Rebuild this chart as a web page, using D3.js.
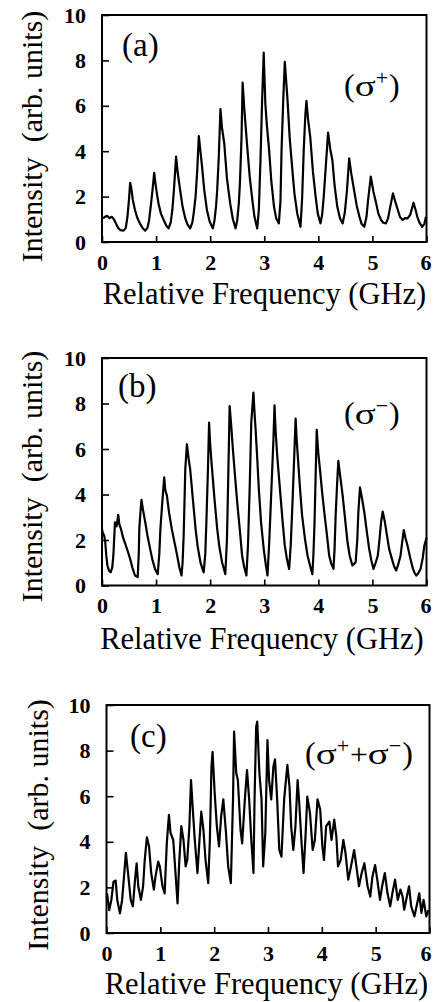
<!DOCTYPE html>
<html lang="en">
<head>
<meta charset="utf-8">
<title>Spectra sigma+ / sigma-</title>
<script src="https://d3js.org/d3.v7.min.js"></script>
<style>
  body { margin: 0; background: #fff; }
  svg { display: block; }
  text { font-family: "Liberation Serif", "Times New Roman", serif; fill: #000; }
</style>
</head>
<body>
<div id="vis"></div>
<script>
// [frequency (GHz), intensity (arb. units)]

// (a) sigma+
const traceA = [
  [0.02,1.04],[0.06,1.12],[0.10,1.15],[0.14,1.05],[0.18,1.11],[0.22,1.00],[0.26,0.80],
  [0.30,0.62],[0.34,0.52],[0.40,0.50],[0.44,0.62],[0.47,1.10],[0.50,1.90],
  [0.52,2.61],[0.54,2.40],[0.57,1.85],[0.61,1.41],[0.65,1.08],[0.70,0.82],[0.75,0.62],
  [0.80,0.50],[0.84,0.62],[0.87,0.95],[0.90,1.55],[0.93,2.20],
  [0.965,3.05],[0.99,2.55],[1.02,2.05],[1.045,1.70],[1.09,1.25],[1.14,0.97],[1.19,0.72],
  [1.23,0.60],[1.27,0.85],[1.30,1.40],[1.33,2.30],
  [1.37,3.76],[1.40,3.05],[1.45,2.20],[1.49,1.55],[1.54,1.04],[1.58,0.78],[1.63,0.60],
  [1.67,0.85],[1.70,1.35],[1.73,2.00],[1.76,3.10],
  [1.79,4.67],[1.82,4.00],[1.85,3.32],[1.89,2.30],[1.94,1.41],[1.99,0.90],[2.05,0.60],
  [2.08,0.95],[2.11,1.60],[2.13,2.29],[2.16,3.80],
  [2.19,5.86],[2.22,5.00],[2.26,4.35],[2.31,2.80],[2.37,1.70],[2.42,1.00],[2.47,0.60],
  [2.50,0.95],[2.53,1.70],[2.55,2.58],[2.58,4.60],
  [2.60,7.02],[2.63,5.90],[2.68,4.35],[2.73,2.90],[2.78,1.85],[2.82,1.10],[2.87,0.60],
  [2.90,1.40],[2.93,3.60],[2.96,6.20],
  [2.99,8.34],[3.02,6.10],[3.05,5.10],[3.09,4.05],[3.13,2.70],[3.18,1.56],[3.22,1.05],
  [3.27,0.82],[3.30,1.80],[3.32,4.05],[3.35,6.20],
  [3.38,7.94],[3.43,6.26],[3.47,4.60],[3.52,3.17],[3.56,2.10],[3.61,1.26],[3.67,0.67],
  [3.70,1.90],[3.73,4.05],[3.76,5.60],
  [3.78,6.22],[3.81,5.40],[3.85,4.64],[3.90,3.10],[3.95,2.00],[3.99,1.25],[4.04,0.82],
  [4.07,1.20],[4.10,2.00],[4.14,3.40],
  [4.18,4.82],[4.22,4.10],[4.26,3.60],[4.30,2.50],[4.35,1.56],[4.40,1.05],[4.45,0.82],
  [4.49,1.30],[4.53,2.29],
  [4.57,3.69],[4.61,3.00],[4.66,2.29],[4.71,1.60],[4.76,1.11],[4.80,0.80],[4.85,0.67],
  [4.89,1.10],[4.92,1.85],
  [4.97,2.88],[5.02,2.20],[5.07,1.70],[5.11,1.25],[5.16,0.97],[5.20,0.85],[5.25,0.82],
  [5.29,1.05],[5.33,1.56],
  [5.38,2.14],[5.42,1.80],[5.47,1.41],[5.51,1.10],[5.56,0.97],[5.60,1.05],[5.65,1.04],
  [5.70,1.20],[5.76,1.73],[5.80,1.40],[5.83,1.11],[5.87,0.85],[5.92,0.67],[5.96,0.80],[5.99,1.11]
];

// (b) sigma-
const traceB = [
  [0.00,2.50],[0.01,2.34],[0.04,2.20],[0.06,1.90],[0.08,1.30],[0.10,0.88],[0.13,0.65],
  [0.16,0.58],[0.19,0.80],[0.21,1.32],[0.24,2.78],[0.27,2.60],[0.30,3.10],[0.32,2.70],
  [0.35,2.49],[0.39,2.10],[0.43,1.83],[0.47,1.55],[0.52,1.17],[0.56,0.80],[0.61,0.44],
  [0.66,0.37],[0.68,1.40],[0.69,2.49],[0.71,3.20],[0.73,3.77],[0.76,3.30],[0.80,2.78],
  [0.84,2.20],[0.89,1.61],[0.93,1.15],[0.98,0.73],[1.03,0.50],[1.06,1.40],[1.08,2.49],
  [1.11,3.50],[1.15,4.75],[1.17,4.20],[1.20,3.95],[1.24,3.20],[1.29,2.49],[1.34,1.90],
  [1.39,1.32],[1.43,0.80],[1.47,0.44],[1.49,1.00],[1.51,2.19],[1.54,5.12],[1.57,6.21],
  [1.60,5.60],[1.63,5.12],[1.68,3.80],[1.73,2.49],[1.77,1.70],[1.82,1.02],[1.88,0.58],
  [1.91,1.40],[1.93,2.78],[1.96,5.20],[1.98,7.16],[2.00,6.20],[2.03,5.26],[2.08,3.80],
  [2.13,2.49],[2.17,1.70],[2.22,1.02],[2.28,0.50],[2.31,2.00],[2.33,4.24],[2.36,7.89],
  [2.39,7.00],[2.42,6.00],[2.46,4.80],[2.50,3.66],[2.55,2.40],[2.59,1.32],[2.63,0.80],
  [2.67,0.44],[2.70,1.80],[2.73,4.24],[2.76,7.16],[2.80,8.48],[2.82,7.60],[2.84,6.87],
  [2.87,5.60],[2.90,4.24],[2.94,2.80],[2.99,1.61],[3.03,0.90],[3.06,0.44],[3.09,1.80],
  [3.12,3.51],[3.17,6.43],[3.19,7.92],[3.21,6.80],[3.24,5.70],[3.30,3.95],[3.34,2.80],
  [3.38,1.75],[3.42,1.15],[3.46,0.73],[3.49,1.80],[3.52,3.51],[3.55,5.40],[3.58,7.34],
  [3.60,6.40],[3.62,5.70],[3.66,4.30],[3.70,3.07],[3.75,2.10],[3.80,1.32],[3.85,0.85],
  [3.89,0.50],[3.91,1.40],[3.93,2.78],[3.95,4.80],[3.97,6.84],[4.00,5.80],[4.03,5.12],
  [4.07,4.10],[4.11,3.22],[4.16,2.20],[4.20,1.32],[4.24,0.95],[4.28,0.73],[4.30,1.60],
  [4.32,3.07],[4.35,4.60],[4.37,5.48],[4.41,4.70],[4.45,3.95],[4.50,2.80],[4.54,1.90],
  [4.58,1.30],[4.63,0.88],[4.66,0.95],[4.69,1.02],[4.72,2.00],[4.74,3.22],[4.77,4.31],
  [4.81,3.80],[4.85,3.22],[4.90,2.30],[4.94,1.61],[4.98,1.10],[5.02,0.73],[5.06,1.00],
  [5.10,1.32],[5.13,2.00],[5.16,2.78],[5.19,3.25],[5.23,2.80],[5.27,2.19],[5.31,1.60],
  [5.36,1.17],[5.40,0.85],[5.44,0.66],[5.48,0.95],[5.52,1.32],[5.55,1.90],[5.58,2.44],
  [5.61,2.10],[5.65,1.75],[5.70,1.20],[5.75,0.73],[5.78,0.55],[5.81,0.44],[5.85,0.55],
  [5.89,0.73],[5.93,1.20],[5.96,1.75],[6.00,2.10]
];

// (c) sigma+ + sigma-
const traceC = [
  [0.01,1.74],[0.05,1.00],[0.09,1.45],[0.13,2.25],[0.17,2.30],[0.20,1.45],
  [0.25,0.86],[0.29,1.45],[0.34,2.91],[0.36,3.52],[0.40,2.63],[0.45,1.45],
  [0.49,1.17],[0.53,2.34],[0.56,3.06],[0.59,2.05],[0.64,1.45],[0.68,2.05],
  [0.71,3.20],[0.75,4.20],[0.79,3.80],[0.83,2.63],[0.88,1.90],[0.91,2.48],
  [0.96,3.13],[0.99,2.92],[1.04,2.05],[1.08,1.74],[1.12,3.93],[1.16,5.18],
  [1.19,4.38],[1.24,4.08],[1.29,2.34],[1.32,1.30],[1.35,3.06],[1.39,4.69],
  [1.43,4.08],[1.47,2.92],[1.50,3.20],[1.54,4.69],[1.57,6.71],[1.60,5.53],
  [1.64,4.08],[1.69,2.63],[1.72,3.80],[1.76,5.32],[1.80,4.52],[1.84,3.20],
  [1.89,2.19],[1.92,4.08],[1.95,7.29],[1.97,7.95],[2.01,6.12],[2.05,4.69],
  [2.09,3.80],[2.13,5.12],[2.17,5.86],[2.22,4.38],[2.26,2.92],[2.31,2.19],
  [2.35,5.86],[2.37,8.83],[2.41,7.02],[2.44,6.71],[2.49,4.52],[2.52,3.93],
  [2.57,5.86],[2.61,7.15],[2.65,5.86],[2.69,4.08],[2.73,2.63],[2.75,5.86],
  [2.78,9.05],[2.80,9.27],[2.84,7.02],[2.88,5.86],[2.91,2.92],[2.95,4.38],
  [2.99,8.46],[3.02,6.71],[3.06,5.86],[3.10,7.29],[3.13,7.62],[3.17,5.86],
  [3.21,3.64],[3.25,3.35],[3.30,5.86],[3.36,7.37],[3.40,6.40],[3.43,4.69],
  [3.47,3.64],[3.51,4.69],[3.55,6.71],[3.58,5.72],[3.62,4.08],[3.66,2.63],
  [3.70,4.38],[3.73,5.98],[3.78,5.26],[3.83,3.64],[3.87,4.08],[3.92,5.86],
  [3.97,5.41],[4.01,3.80],[4.04,3.20],[4.08,4.69],[4.14,4.88],[4.18,4.08],
  [4.23,4.97],[4.27,4.23],[4.30,2.92],[4.35,3.20],[4.40,4.08],[4.44,3.50],
  [4.49,2.34],[4.53,2.78],[4.60,3.64],[4.65,2.78],[4.69,2.05],[4.74,2.63],
  [4.79,3.06],[4.85,2.05],[4.90,1.60],[4.94,2.48],[4.99,2.98],[5.03,2.34],
  [5.08,1.45],[5.12,2.05],[5.17,2.63],[5.22,1.74],[5.27,1.17],[5.31,1.74],
  [5.36,2.34],[5.41,1.45],[5.46,1.90],[5.50,1.60],[5.53,1.02],[5.58,1.60],
  [5.62,2.05],[5.66,1.17],[5.72,0.73],[5.76,1.17],[5.81,1.74],[5.85,0.88],
  [5.89,1.45],[5.94,0.73],[5.98,1.00]
];

const xTicks = [0, 1, 2, 3, 4, 5, 6];
const yTicks = [0, 2, 4, 6, 8, 10];
const panelNames = ["(a)", "(b)", "(c)"];
const xTitle = "Relative Frequency (GHz)";
const yTitle = "Intensity  (arb. units)";

// polarisation tags: text pieces, kind = paren | sig | op | sup
const tagA = [["(", "paren"], ["σ", "sig"], ["+", "sup"], [")", "paren"]];
const tagB = [["(", "paren"], ["σ", "sig"], ["−", "sup"], [")", "paren"]];
const tagC = [["(", "paren"], ["σ", "sig"], ["+", "sup"], ["+", "op"], ["σ", "sig"], ["−", "sup"], [")", "paren"]];

const width = 433, height = 1002;

const svg = d3.select("#vis")
  .append("svg")
  .attr("width", width)
  .attr("height", height);

// pixel boxes of the three frames (measured on the scan)
const panels = [
  { data: traceA, name: panelNames[0], tag: tagA,
    left: 102, right: 426.5, top: 15, bottom: 242,
    nameX: 122, nameY: 56, tagX: 344, tagY: 96,
    xtX: 264.5, xtY: 304, ytX: 42, ytY: 136.5 },
  { data: traceB, name: panelNames[1], tag: tagB,
    left: 102, right: 426.5, top: 358, bottom: 585.5,
    nameX: 118, nameY: 397, tagX: 344, tagY: 424,
    xtX: 262, xtY: 649, ytX: 42, ytY: 476.5 },
  { data: traceC, name: panelNames[2], tag: tagC,
    left: 106.5, right: 429.5, top: 705, bottom: 933,
    nameX: 130, nameY: 747, tagX: 305, tagY: 764,
    xtX: 266.5, xtY: 994, ytX: 48, ytY: 825 }
];

const pieceStyle = {
  paren: { font: "Liberation Serif", size: 32, scale: 1, dy: 0 },
  sig:   { font: "Liberation Sans", size: 30, scale: 1.3, dy: 0 },
  op:    { font: "Liberation Sans", size: 30, scale: 1.05, dy: 0 },
  sup:   { font: "Liberation Sans", size: 22, scale: 1, dy: -11 }
};

panels.forEach(function(p) {
  const x = d3.scaleLinear().domain([0, 6]).range([p.left, p.right]);
  const y = d3.scaleLinear().domain([0, 10]).range([p.bottom, p.top]);

  const g = svg.append("g");

  // y axis, ticks pointing inward
  const yAxis = g.append("g")
    .attr("transform", `translate(${p.left},0)`)
    .call(d3.axisLeft(y).tickValues(yTicks).tickFormat(d3.format("d"))
      .tickSizeInner(-7).tickSizeOuter(0).tickPadding(16));
  yAxis.select(".domain").remove();

  // x axis
  const xAxis = g.append("g")
    .attr("transform", `translate(0,${p.bottom})`)
    .call(d3.axisBottom(x).tickValues(xTicks).tickFormat(d3.format("d"))
      .tickSizeInner(-6).tickSizeOuter(0).tickPadding(12));
  xAxis.select(".domain").remove();

  g.selectAll(".tick line").attr("stroke", "#000").attr("stroke-width", 1.6);
  g.selectAll(".tick text")
    .attr("font-family", "Liberation Serif")
    .attr("font-size", 22)
    .attr("font-weight", "bold")
    .attr("fill", "#000");

  // keep the last x label inside the page
  xAxis.selectAll(".tick text")
    .filter(d => d === 6)
    .attr("dx", Math.min(0, width - 1.5 - (x(6) + 6)));

  // frame
  g.append("rect")
    .attr("x", p.left)
    .attr("y", p.top)
    .attr("width", p.right - p.left)
    .attr("height", p.bottom - p.top)
    .attr("fill", "none")
    .attr("stroke", "#000")
    .attr("stroke-width", 2);

  // the trace
  const line = d3.line()
    .x(d => x(d[0]))
    .y(d => y(d[1]));

  g.append("path")
    .datum(p.data)
    .attr("d", line)
    .attr("fill", "none")
    .attr("stroke", "#000")
    .attr("stroke-width", 2.2)
    .attr("stroke-linejoin", "round");

  // axis titles
  g.append("text")
    .attr("x", p.xtX)
    .attr("y", p.xtY)
    .attr("text-anchor", "middle")
    .attr("font-size", 30.5)
    .text(xTitle);

  g.append("text")
    .attr("transform", `translate(${p.ytX},${p.ytY}) rotate(-90)`)
    .attr("text-anchor", "middle")
    .attr("font-size", 30)
    .style("white-space", "pre")
    .text(yTitle);

  // panel letter
  g.append("text")
    .attr("x", p.nameX)
    .attr("y", p.nameY)
    .attr("font-size", 33)
    .text(p.name);

  // polarisation tag, laid out piece by piece
  let cx = p.tagX;
  p.tag.forEach(function(piece) {
    const st = pieceStyle[piece[1]];
    const t = g.append("text")
      .attr("font-family", st.font)
      .attr("font-size", st.size)
      .attr("transform", `translate(${cx},${p.tagY + st.dy}) scale(${st.scale},1)`)
      .text(piece[0]);
    cx += t.node().getComputedTextLength() * st.scale + (piece[1] === "sup" ? 1 : 0);
  });
});
</script>
</body>
</html>
